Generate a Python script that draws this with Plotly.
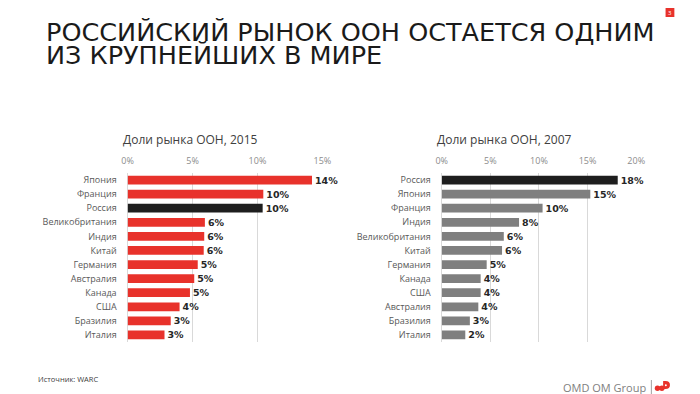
import plotly.graph_objects as go

W, H = 700, 394

# ---- data ----
categories_2015 = ["Япония", "Франция", "Россия", "Великобритания", "Индия", "Китай",
                   "Германия", "Австралия", "Канада", "США", "Бразилия", "Италия"]
share_2015 = [14.2, 10.45, 10.4, 5.95, 5.9, 5.86, 5.4, 5.13, 4.8, 4.0, 3.32, 2.84]

categories_2007 = ["Россия", "Япония", "Франция", "Индия", "Великобритания", "Китай",
                   "Германия", "Канада", "США", "Австралия", "Бразилия", "Италия"]
share_2007 = [18.1, 15.28, 10.37, 7.95, 6.38, 6.2, 4.62, 4.0, 4.0, 3.76, 2.89, 2.42]

ticks_2015 = [0, 5, 10, 15]
ticks_2007 = [0, 5, 10, 15, 20]
ticktext_2015 = ["0%", "5%", "10%", "15%"]
ticktext_2007 = ["0%", "5%", "10%", "15%", "20%"]

title_line1 = "РОССИЙСКИЙ РЫНОК ООН ОСТАЕТСЯ ОДНИМ"
title_line2 = "ИЗ КРУПНЕЙШИХ В МИРЕ"
subtitle_2015 = "Доли рынка ООН, 2015"
subtitle_2007 = "Доли рынка ООН, 2007"
source_text = "Источник: WARC"
brand_text = "OMD OM Group"
page_no = "3"

HIGHLIGHT = "Россия"
RED = "#E8322B"
GREY = "#7F7F7F"
BLACK = "#1E1E1E"


def px(x):
    return x / W


def py(y):
    return 1 - y / H


colors_2015 = [BLACK if c == HIGHLIGHT else RED for c in categories_2015]
colors_2007 = [BLACK if c == HIGHLIGHT else GREY for c in categories_2007]

fig = go.Figure()

common_bar = dict(
    orientation="h",
    width=0.62,
    textposition="outside",
    texttemplate="%{x:.0f}%",
    textfont=dict(family="DejaVu Sans", size=9.5, color="#262626", weight="bold"),
    constraintext="none",
    cliponaxis=False,
    hoverinfo="skip",
    showlegend=False,
)

fig.add_trace(go.Bar(x=share_2015, y=categories_2015, marker=dict(color=colors_2015, line=dict(width=0)),
                     xaxis="x", yaxis="y", **common_bar))
fig.add_trace(go.Bar(x=share_2007, y=categories_2007, marker=dict(color=colors_2007, line=dict(width=0)),
                     xaxis="x2", yaxis="y2", **common_bar))

ydom = [py(342.0), py(173.0)]
xaxis_common = dict(
    side="top",
    showgrid=True,
    gridcolor="#D9D9D9",
    gridwidth=1,
    zeroline=True,
    zerolinecolor="#D9D9D9",
    zerolinewidth=1,
    showline=False,
    ticks="",
    ticklabelstandoff=6,
    tickfont=dict(family="Open Sans", size=9, color="#8C8C8C"),
    fixedrange=True,
)
yaxis_common = dict(
    autorange="reversed",
    showgrid=False,
    zeroline=False,
    showline=False,
    ticks="",
    ticklabelstandoff=10,
    tickfont=dict(family="Open Sans", size=9, color="#595959"),
    domain=ydom,
    fixedrange=True,
)

fig.update_layout(
    width=W,
    height=H,
    margin=dict(l=0, r=0, t=0, b=0),
    paper_bgcolor="white",
    plot_bgcolor="white",
    xaxis=dict(domain=[px(124.3), px(323.3)], range=[0, 15], tickvals=ticks_2015, ticktext=ticktext_2015,
               anchor="y", **xaxis_common),
    yaxis=dict(anchor="x", **yaxis_common),
    xaxis2=dict(domain=[px(445.3), px(644.0)], range=[0, 20], tickvals=ticks_2007, ticktext=ticktext_2007,
                anchor="y2", **xaxis_common),
    yaxis2=dict(anchor="x2", **yaxis_common),
)

annotations = [
    dict(text=title_line1, x=px(39), y=py(32), xanchor="left", yanchor="middle",
         font=dict(family="DejaVu Sans", size=25.5, color="#1A1A1A")),
    dict(text=title_line2, x=px(39), y=py(54.5), xanchor="left", yanchor="middle",
         font=dict(family="DejaVu Sans", size=25.5, color="#1A1A1A")),
    dict(text=subtitle_2015, x=px(188.5), y=py(140), xanchor="center", yanchor="middle",
         font=dict(family="Open Sans", size=12, color="#404040")),
    dict(text=subtitle_2007, x=px(509.5), y=py(140), xanchor="center", yanchor="middle",
         font=dict(family="Open Sans", size=12, color="#404040")),
    dict(text=source_text, x=px(31), y=py(379), xanchor="left", yanchor="middle",
         font=dict(family="Open Sans", size=7.5, color="#404040")),
    dict(text=brand_text, x=px(656), y=py(387.5), xanchor="right", yanchor="middle",
         font=dict(family="Open Sans", size=11, color="#808080")),
    dict(text=page_no, x=px(678.5), y=py(12.5), xanchor="center", yanchor="middle",
         font=dict(family="Open Sans", size=6, color="white")),
]
for a in annotations:
    a.update(xref="paper", yref="paper", showarrow=False)
fig.update_layout(annotations=annotations)

shapes = [
    # page number box
    dict(type="rect", x0=px(674), x1=px(683), y0=py(17), y1=py(8), fillcolor=RED, line=dict(width=0)),
    # separator
    dict(type="line", x0=px(659.5), x1=px(659.5), y0=py(380), y1=py(394), line=dict(color="#A0A0A0", width=1)),
    # logo approximation
    dict(type="circle", x0=px(663), x1=px(668.5), y0=py(391), y1=py(385.5), fillcolor=RED, line=dict(width=0)),
    dict(type="circle", x0=px(667.5), x1=px(673), y0=py(391), y1=py(385.5), fillcolor=RED, line=dict(width=0)),
    dict(type="rect", x0=px(665), x1=px(671), y0=py(390), y1=py(386.5), fillcolor=RED, line=dict(width=0)),
    dict(type="path",
         path=f"M {px(671.5)},{py(381)} L {px(674)},{py(381)} "
              f"Q {px(678.5)},{py(381)} {px(678.5)},{py(385)} "
              f"Q {px(678.5)},{py(389)} {px(674)},{py(389)} L {px(671.5)},{py(389)} Z",
         fillcolor=RED, line=dict(width=0)),
    dict(type="circle", x0=px(673.3), x1=px(675.3), y0=py(386.2), y1=py(384.2), fillcolor="white", line=dict(width=0)),
]
for s in shapes:
    s.setdefault("xref", "paper")
    s.setdefault("yref", "paper")
fig.update_layout(shapes=shapes)

fig.write_html(
    "out.html",
    config={"displayModeBar": False, "staticPlot": True},
    post_script="document.body.style.margin='0';document.body.style.padding='0';"
                "document.documentElement.style.overflow='hidden';",
)
